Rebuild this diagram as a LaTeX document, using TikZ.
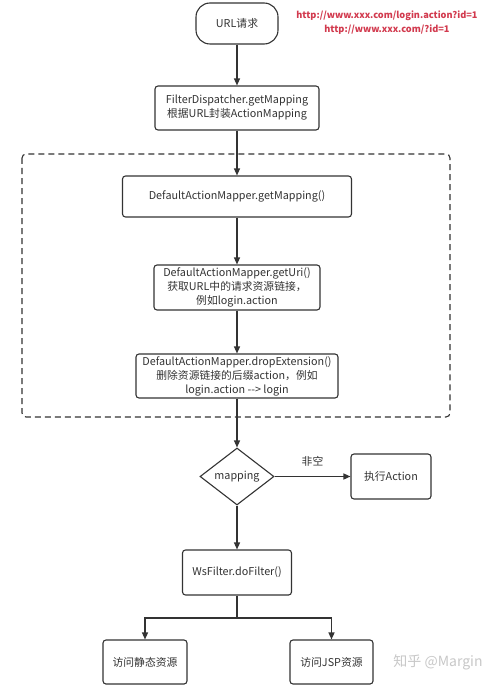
\documentclass[tikz,border=0pt]{standalone}
\usepackage{fontspec}
\setmainfont{Noto Sans CJK SC}
\usetikzlibrary{shapes.geometric,arrows.meta}
\definecolor{linec}{HTML}{333333}
\definecolor{urlred}{HTML}{D23A4E}
\definecolor{wm}{HTML}{C8C8C8}
\begin{document}
\begin{tikzpicture}[x=1pt,y=-1pt,
  box/.style={draw=linec, line width=1.1pt, rounded corners=3pt, fill=white, align=center,
    text=linec, font=\fontsize{10.8}{14}\selectfont, inner sep=0pt},
  arr/.style={-{Triangle[length=7pt,width=6pt]}, line width=1.3pt, draw=linec},
  plain/.style={line width=1.3pt, draw=linec}]
\useasboundingbox (0,0) rectangle (500,687);
\fill[white] (0,0) rectangle (500,687);

% dashed group
\draw[linec, line width=1.1pt, dash pattern=on 6pt off 4pt, rounded corners=4pt] (22,154) rectangle (450,417);

\node[box, rounded corners=14pt, minimum width=82pt, minimum height=41pt] (url) at (237,23.5) {URL请求};
\node[align=center, text=urlred, font=\fontsize{9.2}{14}\selectfont\bfseries] (note) at (387,23) {http://www.xxx.com/login.action?id=1\\http://www.xxx.com/?id=1};

\node[box, minimum width=164pt, minimum height=44pt] (fd) at (237,108) {FilterDispatcher.getMapping\\根据URL封装ActionMapping};
\node[box, minimum width=229pt, minimum height=41pt] (dam) at (237,196.5) {DefaultActionMapper.getMapping()};
\node[box, minimum width=166pt, minimum height=45pt] (uri) at (237,287.5) {DefaultActionMapper.getUri()\\获取URL中的请求资源链接，\\例如login.action};
\node[box, minimum width=202pt, minimum height=44pt] (drop) at (237,376) {DefaultActionMapper.dropExtension()\\删除资源链接的后缀action，例如\\login.action -{}-{}> login};
\node[box, diamond, rounded corners=0pt, minimum width=74pt, minimum height=57pt] (map) at (237,476.5) {mapping};
\node[box, minimum width=80pt, minimum height=45pt] (exec) at (391,476.5) {执行Action};
\node[box, minimum width=109pt, minimum height=45pt] (ws) at (237,572.5) {WsFilter.doFilter()};
\node[box, minimum width=84pt, minimum height=44pt] (stat) at (145,662) {访问静态资源};
\node[box, minimum width=83pt, minimum height=44pt] (jsp) at (331.5,662) {访问JSP资源};
\coordinate (split) at (237,618);

\draw[arr] (url) -- (fd);
\draw[arr] (fd) -- (dam);
\draw[arr] (dam) -- (uri);
\draw[arr] (uri) -- (drop);
\draw[arr] (drop) -- (map);
\draw[arr] (map) -- node[above=6pt, text=linec, font=\fontsize{10.8}{12}\selectfont] (fk) {非空} (exec);
\draw[arr] (map) -- (ws);
\draw[plain] (ws) -- (split);
\draw[arr] (split) -| (stat);
\draw[arr] (split) -| (jsp);

\node[text=wm, font=\fontsize{14}{16}\selectfont] (wmark) at (438,662) {知乎 @Margin};
\end{tikzpicture}
\end{document}
